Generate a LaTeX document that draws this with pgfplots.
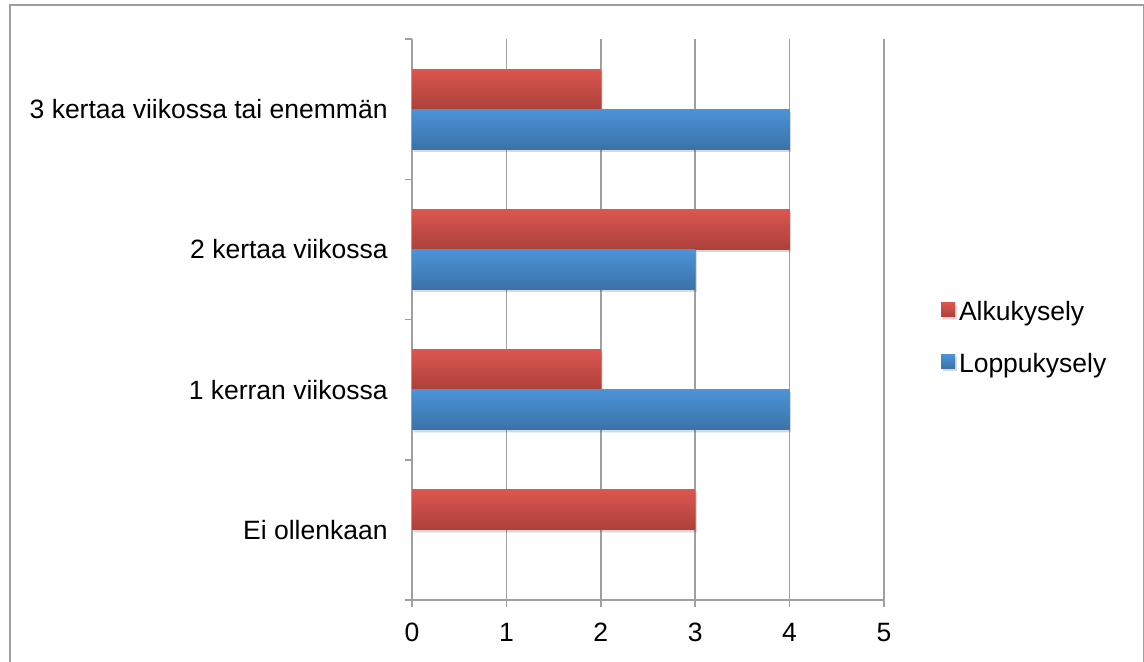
\documentclass[border=0pt]{standalone}
\usepackage{fontspec}
\setmainfont{Liberation Sans}
\usepackage{pgfplots}
\pgfplotsset{compat=1.18}

\definecolor{gridgray}{RGB}{160,160,160}
\definecolor{framegray}{RGB}{158,158,158}
\definecolor{redtop}{RGB}{220,86,80}
\definecolor{redbot}{RGB}{172,64,58}
\definecolor{bluetop}{RGB}{76,148,215}
\definecolor{bluebot}{RGB}{58,114,168}

\newcommand{\labfont}{\fontsize{13.25}{16}\selectfont}

% each bar is its own plot so that every bar gets its own vertical gradient
\pgfplotsset{
  alku/.style={draw=none, top color=redtop, bottom color=redbot, bar shift=10pt,
    preaction={fill=black, opacity=0.10, transform canvas={xshift=0.8pt, yshift=-1.2pt}}},
  loppu/.style={draw=none, top color=bluetop, bottom color=bluebot, bar shift=-10pt,
    preaction={fill=black, opacity=0.10, transform canvas={xshift=0.8pt, yshift=-1.2pt}}},
}

\begin{document}
\begin{tikzpicture}
% page size
\useasboundingbox (0pt,0pt) rectangle (572pt,330.5pt);
% chart frame
\draw[framegray, line width=0.75pt]
  (4.875pt,-10pt) -- (4.875pt,328.125pt) -- (571.75pt,328.125pt) -- (571.75pt,-10pt);

\begin{axis}[
  at={(206pt,30.5pt)}, anchor=south west,
  scale only axis, width=236pt, height=280.5pt,
  xmin=0, xmax=5, ymin=-0.5, ymax=3.5,
  axis x line*=bottom, axis y line*=left,
  axis line style={gridgray, line width=0.75pt},
  xtick={0,1,2,3,4,5},
  xmajorgrids,
  grid style={gridgray, line width=0.75pt},
  tick align=outside,
  major tick length=3.5pt,
  tick style={gridgray, line width=0.75pt},
  ytick={-0.5,0.5,1.5,2.5,3.5},
  yticklabels={},
  extra y ticks={0,1,2,3},
  extra y tick labels={Ei ollenkaan,1 kerran viikossa,2 kertaa viikossa,3 kertaa viikossa tai enemmän},
  extra y tick style={major tick length=0pt, tick style={draw=none},
    yticklabel style={anchor=east, inner sep=0pt, xshift=-12pt}},
  tick label style={font=\labfont, text=black},
  xticklabel style={anchor=north, inner sep=0pt, yshift=-8pt},
  /pgf/number format/assume math mode=true,
  xbar, bar width=20pt,
  legend cell align=left,
  legend style={draw=none, fill=none, at={(1.1208,0.5317)}, anchor=north west,
    inner sep=0pt, outer sep=0pt, row sep=13.45pt, column sep=2pt,
    font=\labfont,
    nodes={inner sep=0pt, text height=9.5pt, text depth=2.8pt}},
  legend image code/.code={\fill[#1,draw=none] (0pt,-1.35pt) rectangle (7pt,5.65pt);},
]
% Alkukysely
\addplot[alku] coordinates {(2,3)};
\addlegendentry{Alkukysely}
% Loppukysely
\addplot[loppu] coordinates {(4,3)};
\addlegendentry{Loppukysely}
\addplot[alku, forget plot] coordinates {(4,2)};
\addplot[alku, forget plot] coordinates {(2,1)};
\addplot[alku, forget plot] coordinates {(3,0)};
\addplot[loppu, forget plot] coordinates {(3,2)};
\addplot[loppu, forget plot] coordinates {(4,1)};
\end{axis}
\end{tikzpicture}
\end{document}
